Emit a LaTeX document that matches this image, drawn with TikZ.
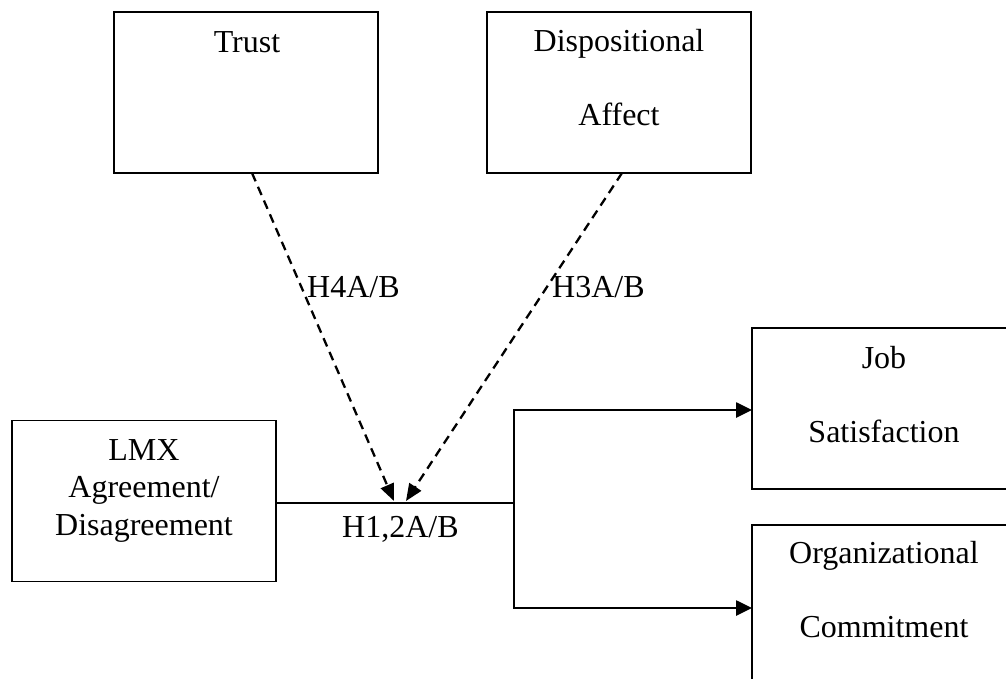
\documentclass[tikz,border=0pt]{standalone}
\usepackage{fontspec}
\setmainfont{Liberation Serif}
\usetikzlibrary{arrows.meta}
\begin{document}
\begin{tikzpicture}[x=1bp,y=-1bp,
  box/.style={draw, line width=1.9bp, minimum width=264bp, minimum height=161bp, inner sep=0pt, outer sep=0pt},
  txt/.style={inner sep=0pt, anchor=base, font=\fontsize{32bp}{38bp}\selectfont},
  lbl/.style={txt, anchor=base west},
  link/.style={line width=2.6bp},
  modarrow/.style={line width=2.3bp, dash pattern=on 9bp off 6bp, -{Triangle[length=17bp,width=14bp]}},
  outarrow/.style={line width=2.6bp, line join=miter, -{Triangle[length=16bp,width=15bp]}}]
\useasboundingbox (0,0) rectangle (1006,679);
\clip (0,0) rectangle (1006,679);
\fill[white] (0,0) rectangle (1006,679);
% boxes
\node[box] (trust) at (246,92.5) {};
\node[box] (disp) at (619,92.5) {};
\node[box] (lmx) at (144,501) {};
\node[box] (job) at (884,408.5) {};
\node[box] (org) at (884,605.5) {};
% texts
\node[txt] (ttrust) at (247,53) {Trust};
\node[txt] (tdisp1) at (619,52) {Dispositional};
\node[txt] (tdisp2) at (619,126) {Affect};
\node[txt] (tlmx1) at (144,460) {LMX};
\node[txt] (tlmx2) at (144,497) {Agreement/};
\node[txt] (tlmx3) at (144,535) {Disagreement};
\node[txt] (tjob1) at (884,368) {Job};
\node[txt] (tjob2) at (884,442) {Satisfaction};
\node[txt] (torg1) at (884,563) {Organizational};
\node[txt] (torg2) at (884,637) {Commitment};
\node[lbl] (h4) at (307,297) {H4A/B};
\node[lbl] (h3) at (552,297) {H3A/B};
\node[lbl] (h12) at (342,537) {H1,2A/B};
% connectors
\coordinate (jn) at (514,503);
\coordinate (jtop) at (514,410);
\coordinate (jbot) at (514,608);
\coordinate (tip1) at (394,501);
\coordinate (tip2) at (406,501);
\draw[link] (lmx.east |- jn) -- (jn);
\draw[outarrow] (jn) -- (jtop) -- (jtop -| job.west);
\draw[outarrow] (jn) -- (jbot) -- (jbot -| org.west);
\draw[modarrow] ([xshift=6bp]trust.south) -- (tip1);
\draw[modarrow] ([xshift=3bp]disp.south) -- (tip2);
\end{tikzpicture}
\end{document}
